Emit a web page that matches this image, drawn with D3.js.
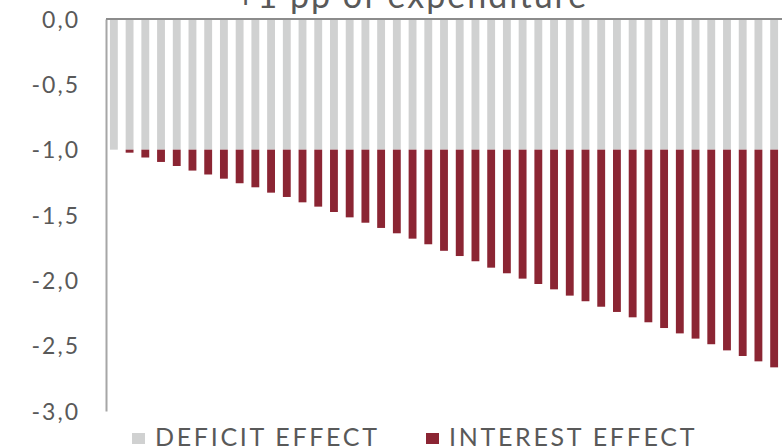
<!DOCTYPE html>
<meta charset="utf-8">
<script src="https://d3js.org/d3.v7.min.js"></script>
<style>
  body { margin: 0; background: #fff; }
  text { font-family: Lato, "Open Sans", sans-serif; fill: #595959; }
</style>
<body>
<div id="chart"></div>
<script>
  // years after the shock (43 bars)
  var periods = d3.range(1, 44);

  // deficit effect (constant -1 pp)
  var deficit = periods.map(function() { return -1.0; });

  // interest effect, stacked below the deficit effect
  var interest = [0, -0.023, -0.06, -0.094, -0.125, -0.16, -0.19, -0.222, -0.257, -0.288,
    -0.329, -0.362, -0.403, -0.436, -0.477, -0.518, -0.559, -0.599, -0.64, -0.681,
    -0.724, -0.774, -0.814, -0.854, -0.903, -0.946, -0.987, -1.028, -1.069, -1.117,
    -1.16, -1.202, -1.242, -1.283, -1.321, -1.365, -1.406, -1.446, -1.489, -1.536,
    -1.579, -1.62, -1.666];

  var yTicks = [0, -0.5, -1, -1.5, -2, -2.5, -3];
  var seriesNames = ["DEFICIT EFFECT", "INTEREST EFFECT"];
  var colors = ["#d0d1d1", "#8b2533"];

  var width = 782, height = 448;
  var margin = {top: 19, right: 0, bottom: 37, left: 106};

  var svg = d3.select("#chart").append("svg")
      .attr("width", width)
      .attr("height", height);

  var x = d3.scaleBand()
      .domain(periods)
      .range([margin.left, width - margin.right])
      .paddingInner(0.5)
      .paddingOuter(0.25);

  var y = d3.scaleLinear()
      .domain([0, -3])
      .range([margin.top, height - margin.bottom]);

  // deficit bars
  svg.append("g").selectAll("rect")
      .data(periods)
    .enter().append("rect")
      .attr("x", function(d) { return x(d); })
      .attr("width", x.bandwidth())
      .attr("y", y(0))
      .attr("height", function(d, i) { return y(deficit[i]) - y(0); })
      .attr("fill", colors[0]);

  // interest bars
  svg.append("g").selectAll("rect")
      .data(periods)
    .enter().append("rect")
      .attr("x", function(d) { return x(d); })
      .attr("width", x.bandwidth())
      .attr("y", function(d, i) { return y(deficit[i]); })
      .attr("height", function(d, i) { return y(deficit[i] + interest[i]) - y(deficit[i]); })
      .attr("fill", colors[1]);

  // axes
  var yAxis = svg.append("g")
      .attr("transform", "translate(" + margin.left + ",0)")
      .call(d3.axisLeft(y).tickValues(yTicks).tickSize(0).tickPadding(26)
        .tickFormat(function(d) { return d3.format(".1f")(d).replace(".", ",").replace("−", "-"); }));
  yAxis.select(".domain").attr("stroke", "#a6a6a6").attr("stroke-width", 2);
  yAxis.selectAll("text")
      .style("font-size", "23px")
      .style("letter-spacing", "2px")
      .attr("dy", "0.35em");

  svg.append("line")
      .attr("x1", margin.left).attr("x2", width)
      .attr("y1", y(0)).attr("y2", y(0))
      .attr("stroke", "#8c8c8c").attr("stroke-width", 2);

  // title (clipped at the top)
  svg.append("text")
      .attr("x", 412).attr("y", 8)
      .attr("text-anchor", "middle")
      .style("font-size", "34px")
      .style("letter-spacing", "2px")
      .text("+1 pp of expenditure");

  // legend
  var legendX = [132, 426];
  var legend = svg.append("g").selectAll("g")
      .data(seriesNames)
    .enter().append("g")
      .attr("transform", function(d, i) { return "translate(" + legendX[i] + ",0)"; });
  legend.append("rect")
      .attr("y", 433).attr("width", 13).attr("height", 11)
      .attr("fill", function(d, i) { return colors[i]; });
  legend.append("text")
      .attr("x", 23).attr("y", 446)
      .style("font-size", "25px")
      .style("letter-spacing", "2.7px")
      .text(function(d) { return d; });
</script>
</body>
